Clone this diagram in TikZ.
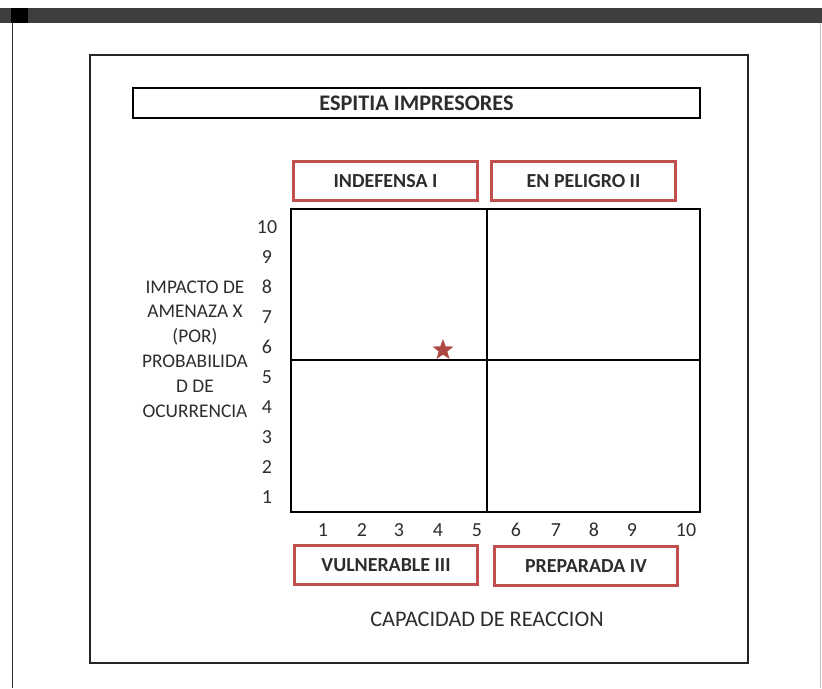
\documentclass[tikz,border=0pt]{standalone}
\usepackage{fontspec}
\setmainfont{Carlito}
\usetikzlibrary{shapes.geometric}

\definecolor{boxred}{RGB}{192,80,77}
\definecolor{bardark}{RGB}{62,62,62}
\definecolor{txtgray}{RGB}{45,45,45}

\tikzset{
  titlebox/.style={draw=black, line width=2.2pt, minimum width=17.01cm, minimum height=0.9cm,
    font=\bfseries\fontsize{19}{22}\selectfont, text=txtgray},
  quadbox/.style={draw=boxred, line width=2.4pt, minimum width=5.5cm, minimum height=1.18cm,
    font=\bfseries\fontsize{17}{20}\selectfont, text=txtgray},
  numlab/.style={font=\fontsize{17}{19}\selectfont, text=txtgray, inner sep=0pt},
}

\begin{document}
\begin{tikzpicture}[x=0.03cm,y=-0.03cm]
  \useasboundingbox (0,0) rectangle (822,688);
  % page and top bar
  \fill[bardark] (0,8) rectangle (822,23);
  \fill[black] (11,8) rectangle (28,23);
  \draw[black!80, line width=0.8pt] (12,23) -- (12,688);
  \draw[black!25, line width=0.8pt] (820,23) -- (820,688);
  \draw[black!85, line width=2.4pt] (90,55) rectangle (748,663);
  % title
  \node[titlebox] (title) at (416.5,103) {ESPITIA IMPRESORES};
  % quadrant labels
  \node[quadbox] (indef) at (385.5,181) {INDEFENSA I};
  \node[quadbox] (peligro) at (583.5,181) {EN PELIGRO II};
  \node[quadbox] (vuln) at (386,565) {VULNERABLE III};
  \node[quadbox] (prep) at (586,566) {PREPARADA IV};
  % matrix
  \draw[line width=1.8pt] (291,209) rectangle (700,512);
  \draw[line width=1.8pt] (487,209) -- (487,512);
  \draw[line width=1.8pt] (291,360) -- (700,360);
  % scales
  \foreach \n in {1,...,10}
    \node[numlab] (y\n) at (267,527-30*\n) {\n};
  \foreach \n/\x in {1/323,2/362,3/399,4/438,5/477,6/516,7/556,8/594,9/632,10/686}
    \node[numlab] (x\n) at (\x,530) {\n};
  % axis titles
  \node[align=center, text=txtgray, font=\fontsize{16.5}{21.2}\selectfont] (ylab) at (195,349)
    {IMPACTO DE\\AMENAZA X\\(POR)\\PROBABILIDA\\D DE\\OCURRENCIA};
  \node[text=txtgray, font=\fontsize{19}{21}\selectfont] (xlab) at (487,619) {CAPACIDAD DE REACCION};
  % position of the company
  \node[star, star points=5, star point ratio=2.4, fill=boxred!90!black, inner sep=0pt,
    minimum size=0.66cm] (pos) at (443,350) {};
\end{tikzpicture}
\end{document}
